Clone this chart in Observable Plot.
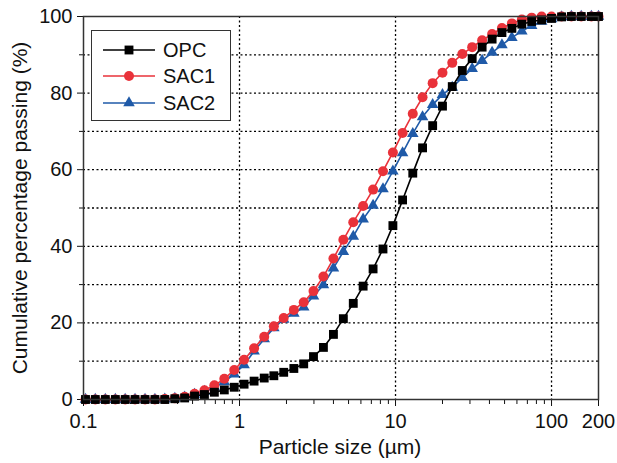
<!DOCTYPE html>
<html>
<head>
<meta charset="utf-8">
<script src="https://cdn.jsdelivr.net/npm/d3@7"></script>
<script src="https://cdn.jsdelivr.net/npm/@observablehq/plot@0.6"></script>
<style>
  html, body { margin: 0; padding: 0; background: #fff; }
  #wrap { position: relative; width: 617px; height: 463px; font-family: "Liberation Sans", Arial, sans-serif; }
  .lbl { position: absolute; color: #111; font-size: 21px; white-space: nowrap; }
</style>
</head>
<body>
<div id="wrap"></div>
<script>
// Particle sizes (µm)
const sizes = [0.103, 0.119, 0.138, 0.160, 0.185, 0.214, 0.248, 0.287, 0.332, 0.385, 0.445, 0.515, 0.596, 0.690, 0.799, 0.925, 1.07, 1.24, 1.44, 1.66, 1.92, 2.23, 2.58, 2.98, 3.45, 4.00, 4.63, 5.36, 6.20, 7.18, 8.31, 9.62, 11.1, 12.9, 14.9, 17.3, 20.0, 23.1, 26.8, 31.0, 35.9, 41.6, 48.1, 55.7, 64.5, 74.6, 86.4, 100, 116, 134, 155, 180, 200];

const opc  = [0,0,0,0,0,0,0,0,0, 0.2,0.4,0.9,1.3,1.9,2.5,3.2,4.0,4.8,5.6,6.2,7.1,8.1,9.3,11.2,13.6,17.0,21.1,25.1,29.6,34.1,39.3,45.4,52.1,59.1,65.7,71.5,76.6,81.7,85.9,89.0,92.0,94.1,95.8,96.9,98.0,98.7,99.1,99.5,99.9,100,100,100,100];
const sac1 = [0,0,0,0,0,0,0,0, 0.1,0.3,0.7,1.5,2.4,3.7,5.4,7.7,10.4,13.4,16.4,19.1,21.3,23.4,25.4,28.3,32.1,36.8,41.7,46.3,50.5,54.8,59.6,64.5,69.6,74.6,78.9,82.6,85.3,87.9,90.2,92.0,93.8,95.4,97.0,98.2,99.2,99.7,100,100,100,100,100,100,100];
const sac2 = [0,0,0,0,0,0,0,0, 0.1,0.3,0.6,1.3,2.1,3.2,4.6,6.6,9.0,12.6,15.8,18.7,20.9,22.5,24.1,27.0,29.9,34.3,38.6,42.6,47.1,50.7,55.0,59.6,64.4,69.4,73.8,77.0,79.6,81.5,84.0,86.4,88.5,90.6,92.6,94.5,96.2,97.6,98.7,99.4,99.9,100,100,100,100];

const seriesNames = ["OPC", "SAC1", "SAC2"];
const seriesColors = ["#000000", "#e9323a", "#1f5aa8"];
const seriesSymbols = ["square", "circle", "triangle"];
const seriesR = [5.0, 5.0, 4.3];
const seriesValues = [opc, sac1, sac2];

const xTickLabels = [0.1, 1, 10, 100, 200];
const xMinorTicks = [0.2,0.3,0.4,0.5,0.6,0.7,0.8,0.9,2,3,4,5,6,7,8,9,20,30,40,50,60,70,80,90];
const xGrid = [1, 10, 100];
const yTickLabels = [0, 20, 40, 60, 80, 100];
const yMinorTicks = [10, 30, 50, 70, 90];
const yGrid = [10, 20, 30, 40, 50, 60, 70, 80, 90];

const xTitle = "Particle size (µm)";
const yTitle = "Cumulative percentage passing (%)";

const rows = [];
seriesNames.forEach((name, i) => {
  sizes.forEach((s, k) => rows.push({series: name, size: s, value: seriesValues[i][k]}));
});

const drawOrder = [2, 1, 0];
const seriesMarks = [];
for (const i of drawOrder) {
  const data = rows.filter(d => d.series === seriesNames[i]);
  seriesMarks.push(Plot.line(data, {x: "size", y: "value", stroke: seriesColors[i], strokeWidth: 1.6}));
  seriesMarks.push(Plot.dot(data, {x: "size", y: "value", fill: seriesColors[i], stroke: "none", symbol: seriesSymbols[i], r: seriesR[i]}));
}

const dotted = {stroke: "#000", strokeOpacity: 1, strokeWidth: 1.3, strokeDasharray: "2,2.5"};

const chart = Plot.plot({
  width: 617,
  height: 463,
  marginLeft: 83,
  marginRight: 19,
  marginTop: 16,
  marginBottom: 64,
  style: {fontFamily: "'Liberation Sans', Arial, sans-serif", background: "#fff", color: "#111"},
  x: {type: "log", domain: [0.1, 200]},
  y: {domain: [0, 100]},
  marks: [
    Plot.gridY(yGrid, dotted),
    Plot.gridX(xGrid, dotted),
    Plot.axisY({ticks: yTickLabels, tickSize: 6, tickPadding: 5, fontSize: 20, label: null, tickFormat: d => String(d)}),
    Plot.axisY({ticks: yMinorTicks, tickSize: 4, tickFormat: () => "", label: null}),
    Plot.axisX({ticks: xTickLabels, tickSize: 7, tickPadding: 7, fontSize: 20, label: null, tickFormat: d => String(d)}),
    Plot.axisX({ticks: xMinorTicks, tickSize: 5, tickFormat: () => "", label: null}),
    ...seriesMarks,
    Plot.frame({stroke: "#333", strokeWidth: 1.5})
  ]
});

const wrap = document.getElementById("wrap");
wrap.appendChild(chart);

// Axis titles
const xt = document.createElement("div");
xt.className = "lbl";
xt.textContent = xTitle;
xt.style.left = "340px";
xt.style.top = "447px";
xt.style.transform = "translate(-50%, -50%)";
wrap.appendChild(xt);

const yt = document.createElement("div");
yt.className = "lbl";
yt.textContent = yTitle;
yt.style.left = "20px";
yt.style.top = "208px";
yt.style.transform = "translate(-50%, -50%) rotate(-90deg)";
wrap.appendChild(yt);

// Legend
const lg = d3.select(wrap).append("svg")
  .attr("width", 141).attr("height", 92)
  .style("position", "absolute").style("left", "91px").style("top", "30px");
lg.append("rect").attr("x", 0.5).attr("y", 0.5).attr("width", 139).attr("height", 90)
  .attr("fill", "#fff").attr("stroke", "#333").attr("stroke-width", 1);
const symMap = {square: d3.symbolSquare, circle: d3.symbolCircle, triangle: d3.symbolTriangle};
const rowY = [20, 46, 73];
seriesNames.forEach((name, i) => {
  const g = lg.append("g").attr("transform", `translate(0,${rowY[i]})`);
  g.append("line").attr("x1", 12).attr("x2", 64).attr("y1", 0).attr("y2", 0)
    .attr("stroke", seriesColors[i]).attr("stroke-width", 1.6);
  g.append("path").attr("transform", "translate(38,0)")
    .attr("d", d3.symbol(symMap[seriesSymbols[i]], Math.PI * seriesR[i] * seriesR[i])())
    .attr("fill", seriesColors[i]);
  g.append("text").attr("x", 72).attr("y", 0).attr("dy", "0.36em")
    .attr("font-size", 20).attr("font-family", "'Liberation Sans', Arial, sans-serif")
    .attr("fill", "#111").text(name);
});
</script>
</body>
</html>
